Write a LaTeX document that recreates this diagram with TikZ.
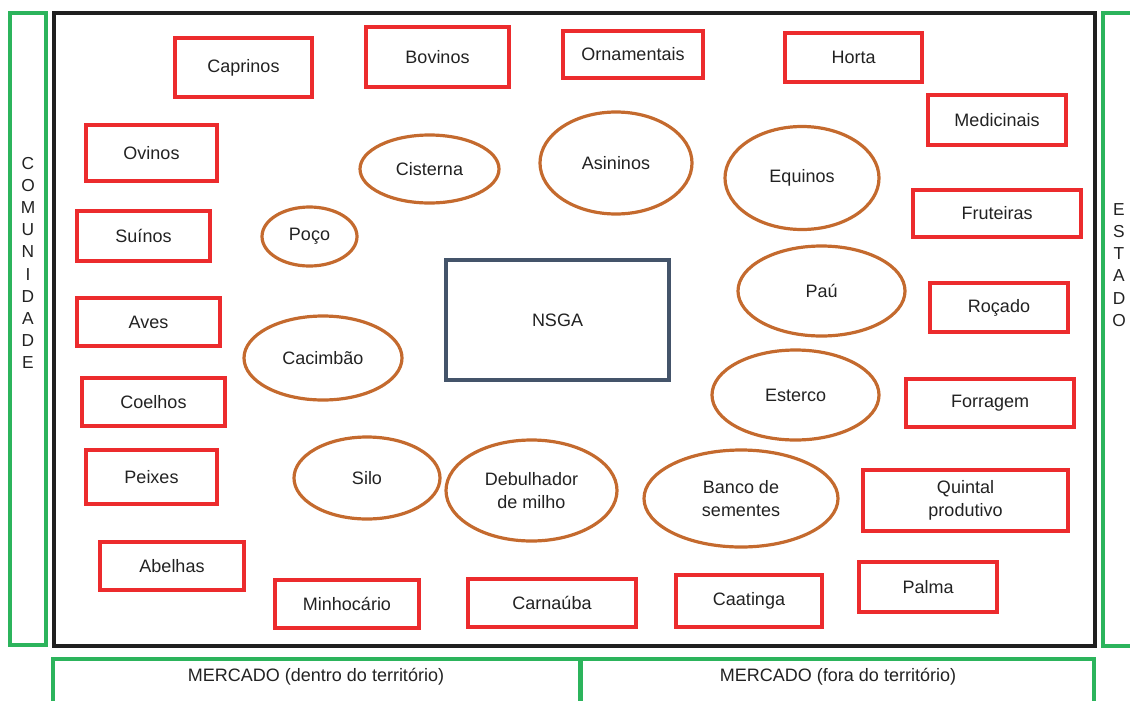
\documentclass[tikz,border=0pt]{standalone}
\usepackage{fontspec}
\setmainfont{Liberation Sans}
\usetikzlibrary{shapes.geometric}
\definecolor{boxred}{RGB}{236,43,45}
\definecolor{ovalbrown}{RGB}{196,106,46}
\definecolor{frame green}{RGB}{44,180,92}
\definecolor{slate}{RGB}{68,84,106}
\definecolor{ink}{RGB}{34,34,34}
\begin{document}
\begin{tikzpicture}[x=0.75pt,y=-0.75pt,
  every node/.style={font=\fontsize{13.5}{17}\selectfont, text=ink, align=center},
  rbox/.style={draw=boxred, line width=2.4pt, rectangle, inner sep=0pt},
  oval/.style={draw=ovalbrown, line width=2.4pt, ellipse, inner sep=0pt},
  gframe/.style={draw=frame green, line width=2.4pt},
  kframe/.style={draw=black!88, line width=2.6pt},
  vletters/.style={font=\fontsize{13}{16.6}\selectfont, align=center}]
\useasboundingbox (0,0) rectangle (1130,700);
\clip (0,0) rectangle (1130,700);

% frames
\draw[gframe] (10,13) rectangle (46,645);
\draw[kframe] (54,13) rectangle (1095,646);
\draw[gframe] (1103,13) rectangle (1145,646);
\draw[gframe] (53,659) rectangle (580,715);
\draw[gframe] (581,659) rectangle (1094,715);

\node[vletters] (com) at (28,263) {C\\O\\M\\U\\N\\I\\D\\A\\D\\E};
\node[vletters] (est) at (1119,265) {E\\S\\T\\A\\D\\O};
\node (mdentro) at (316,677) {MERCADO (dentro do território)};
\node (mfora) at (838,677) {MERCADO (fora do território)};

% centre
\node[draw=slate, line width=2.4pt, minimum width=0.75*223pt, minimum height=0.75*120pt, inner sep=0pt] (nsga) at (557.5,320) {NSGA};

% red boxes
\node[rbox, minimum width=0.75*137pt, minimum height=0.75*59pt] (caprinos) at (243.5,67.5) {Caprinos};
\node[rbox, minimum width=0.75*143pt, minimum height=0.75*60pt] (bovinos) at (437.5,57) {Bovinos};
\node[rbox, minimum width=0.75*140pt, minimum height=0.75*47pt] (ornamentais) at (633,54.5) {Ornamentais};
\node[rbox, minimum width=0.75*137pt, minimum height=0.75*49pt] (horta) at (853.5,57.5) {Horta};
\node[rbox, minimum width=0.75*138pt, minimum height=0.75*50pt] (medicinais) at (997,120) {Medicinais};
\node[rbox, minimum width=0.75*131pt, minimum height=0.75*56pt] (ovinos) at (151.5,153) {Ovinos};
\node[rbox, minimum width=0.75*133pt, minimum height=0.75*50pt] (suinos) at (143.5,236) {Suínos};
\node[rbox, minimum width=0.75*168pt, minimum height=0.75*47pt] (fruteiras) at (997,213.5) {Fruteiras};
\node[rbox, minimum width=0.75*143pt, minimum height=0.75*48pt] (aves) at (148.5,322) {Aves};
\node[rbox, minimum width=0.75*138pt, minimum height=0.75*49pt] (rocado) at (999,307.5) {Roçado};
\node[rbox, minimum width=0.75*143pt, minimum height=0.75*48pt] (coelhos) at (153.5,402) {Coelhos};
\node[rbox, minimum width=0.75*168pt, minimum height=0.75*48pt] (forragem) at (990,403) {Forragem};
\node[rbox, minimum width=0.75*131pt, minimum height=0.75*54pt] (peixes) at (151.5,477) {Peixes};
\node[rbox, minimum width=0.75*205pt, minimum height=0.75*61pt] (quintal) at (965.5,500.5) {Quintal\\produtivo};
\node[rbox, minimum width=0.75*144pt, minimum height=0.75*48pt] (abelhas) at (172,566) {Abelhas};
\node[rbox, minimum width=0.75*138pt, minimum height=0.75*50pt] (palma) at (928,587) {Palma};
\node[rbox, minimum width=0.75*144pt, minimum height=0.75*48pt] (minhocario) at (347,604) {Minhocário};
\node[rbox, minimum width=0.75*168pt, minimum height=0.75*48pt] (carnauba) at (552,603) {Carnaúba};
\node[rbox, minimum width=0.75*146pt, minimum height=0.75*52pt] (caatinga) at (749,601) {Caatinga};

% ovals
\node[oval, minimum width=0.75*139pt, minimum height=0.75*68pt] (cisterna) at (429.5,169) {Cisterna};
\node[oval, minimum width=0.75*152pt, minimum height=0.75*102pt] (asininos) at (616,163) {Asininos};
\node[oval, minimum width=0.75*154pt, minimum height=0.75*103pt] (equinos) at (802,178) {Equinos};
\node[oval, minimum width=0.75*95pt, minimum height=0.75*59pt] (poco) at (309.5,236.5) {Poço};
\node[oval, minimum width=0.75*167pt, minimum height=0.75*90pt] (pau) at (821.5,291) {Paú};
\node[oval, minimum width=0.75*158pt, minimum height=0.75*84pt] (cacimbao) at (323,358) {Cacimbão};
\node[oval, minimum width=0.75*167pt, minimum height=0.75*90pt] (esterco) at (795.5,395) {Esterco};
\node[oval, minimum width=0.75*146pt, minimum height=0.75*82pt] (silo) at (367,478) {Silo};
\node[oval, minimum width=0.75*171pt, minimum height=0.75*101pt] (debulhador) at (531.5,490.5) {Debulhador\\de milho};
\node[oval, minimum width=0.75*194pt, minimum height=0.75*97pt] (banco) at (741,498.5) {Banco de\\sementes};
\end{tikzpicture}
\end{document}
